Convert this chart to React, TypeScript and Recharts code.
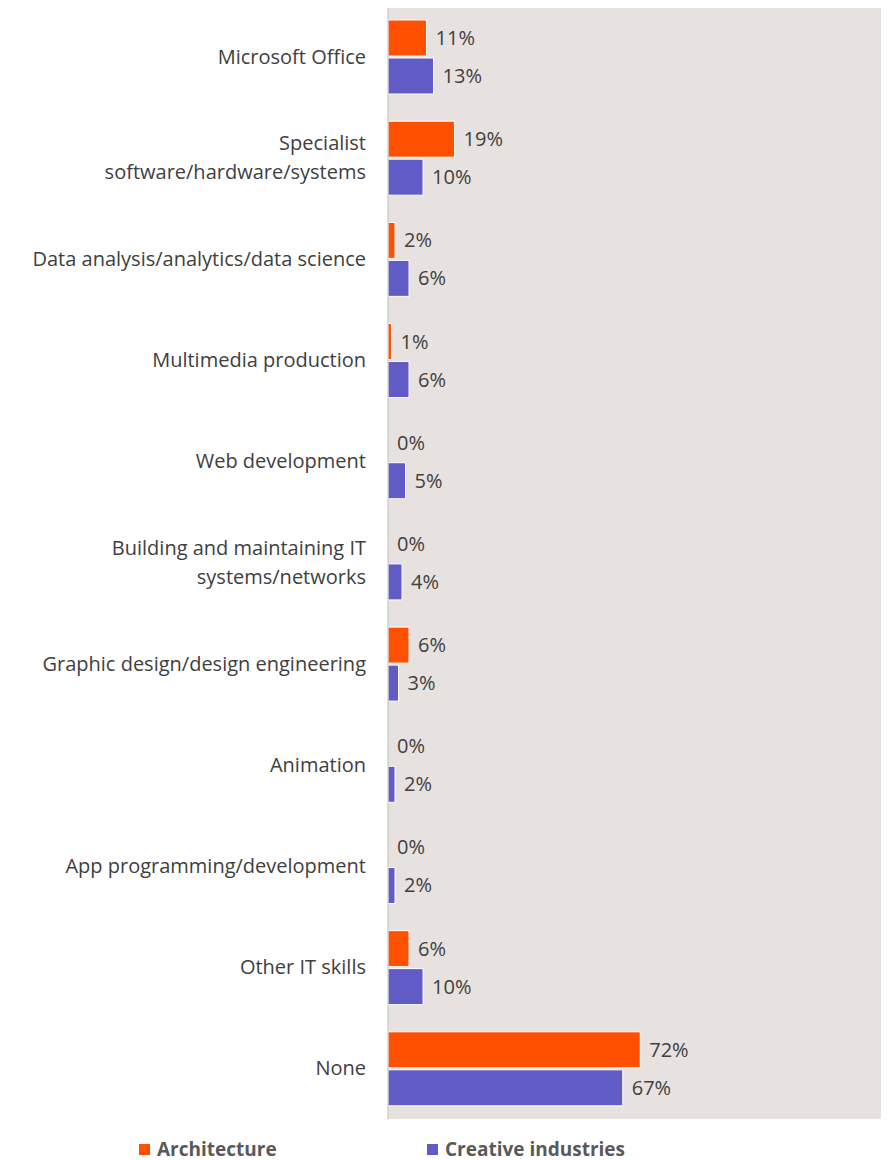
import { BarChart, Bar, XAxis, YAxis, CartesianGrid, LabelList, Legend, Cell } from 'recharts';

const categories = [
  'Microsoft Office',
  'Specialist\nsoftware/hardware/systems',
  'Data analysis/analytics/data science',
  'Multimedia production',
  'Web development',
  'Building and maintaining IT\nsystems/networks',
  'Graphic design/design engineering',
  'Animation',
  'App programming/development',
  'Other IT skills',
  'None',
];

const architecture = [11, 19, 2, 1, 0, 0, 6, 0, 0, 6, 72];
const creative = [13, 10, 6, 6, 5, 4, 3, 2, 2, 10, 67];

const data = categories.map((name, i) => ({
  name,
  architecture: architecture[i],
  creative: creative[i],
}));

const ORANGE = '#FF5000';
const PURPLE = '#615BC5';
const FONT = '"Open Sans", Lato, sans-serif';
const TEXT = '#404040';

function CategoryTick({ x, y, payload }: any) {
  const lines = String(payload.value).split('\n');
  const lh = 29;
  const start = -((lines.length - 1) * lh) / 2;
  const tx = x - 14;
  return (
    <text x={tx} y={y} textAnchor="end" fill={TEXT} fontSize={20} fontFamily={FONT}>
      {lines.map((l, i) => (
        <tspan key={i} x={tx} dy={i === 0 ? start + 7 : lh}>
          {l}
        </tspan>
      ))}
    </text>
  );
}

// draws value labels even for zero-length bars
function ValueLabel({ x, y, width, height, value }: any) {
  return (
    <text
      x={Number(x) + Number(width) + 9}
      y={Number(y) + Number(height) / 2 + 7}
      fill={TEXT}
      fontSize={20}
      fontFamily={FONT}
    >
      {`${value}%`}
    </text>
  );
}

function LegendContent() {
  const items = [
    { label: 'Architecture', color: ORANGE, width: 288 },
    { label: 'Creative industries', color: PURPLE, width: 220 },
  ];
  return (
    <div style={{ display: 'flex', height: 26, paddingLeft: 139, fontFamily: FONT }}>
      {items.map((it) => (
        <div key={it.label} style={{ display: 'flex', alignItems: 'center', width: it.width }}>
          <span style={{ width: 11, height: 11, background: it.color, display: 'inline-block', marginRight: 7 }} />
          <span style={{ fontSize: 19, fontWeight: 700, color: '#595959' }}>{it.label}</span>
        </div>
      ))}
    </div>
  );
}

export default function App() {
  return (
    <div style={{ marginTop: -8, marginLeft: -8, width: 889, height: 1160, background: '#fff' }}>
      <BarChart
        width={889}
        height={1160}
        data={data}
        layout="vertical"
        margin={{ top: 6, right: 7, bottom: 15, left: 0 }}
        barSize={36}
        barGap={2}
      >
        <CartesianGrid fill="#E7E2DF" stroke="none" horizontal={false} vertical={false} />
        <XAxis type="number" domain={[0, 141]} hide />
        <YAxis
          type="category"
          dataKey="name"
          width={388}
          axisLine={{ stroke: '#BFBFBF' }}
          tickLine={false}
          tick={<CategoryTick />}
          interval={0}
        />
        <Legend
          verticalAlign="bottom"
          content={<LegendContent />}
          wrapperStyle={{ left: 0, top: 1136, width: 889, height: 26 }}
        />
        <Bar dataKey="architecture" fill={ORANGE} minPointSize={0.01} isAnimationActive={false}>
          {architecture.map((v, i) => (
            <Cell key={i} stroke={v === 0 ? 'none' : '#fff'} strokeWidth={1} />
          ))}
          <LabelList dataKey="architecture" content={<ValueLabel />} />
        </Bar>
        <Bar dataKey="creative" fill={PURPLE} minPointSize={0.01} isAnimationActive={false}>
          {creative.map((v, i) => (
            <Cell key={i} stroke={v === 0 ? 'none' : '#fff'} strokeWidth={1} />
          ))}
          <LabelList dataKey="creative" content={<ValueLabel />} />
        </Bar>
      </BarChart>
    </div>
  );
}
